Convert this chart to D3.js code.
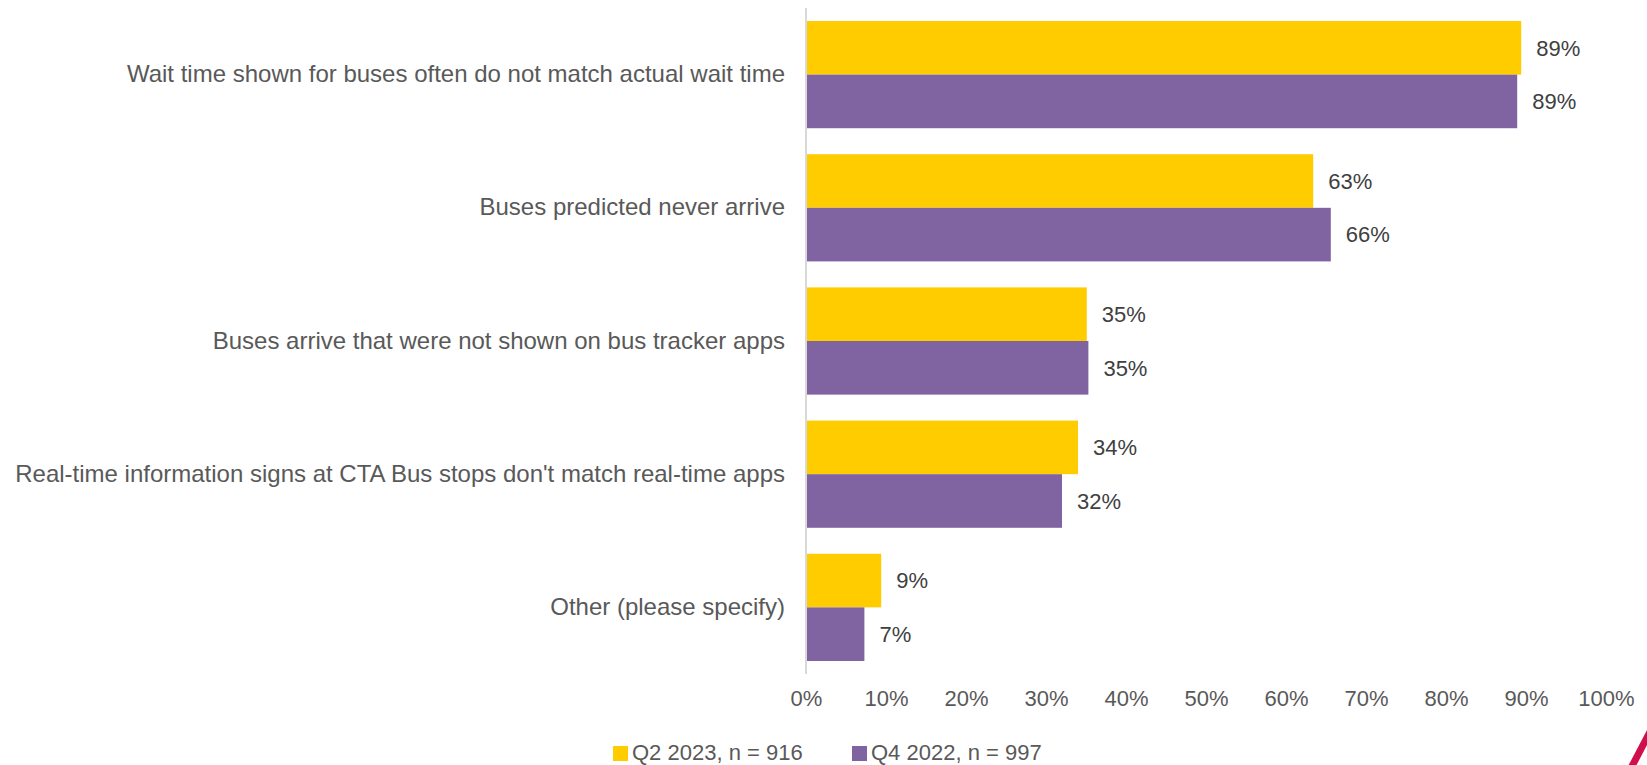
<!DOCTYPE html>
<html>
<head>
<meta charset="utf-8">
<script src="https://cdn.jsdelivr.net/npm/d3@7"></script>
<style>
  html, body { margin: 0; padding: 0; background: #ffffff; }
  svg { display: block; font-family: Arial, "Liberation Sans", sans-serif; }
</style>
</head>
<body>
<svg id="chart" width="1647" height="765"></svg>
<script>
// Survey: problems riders report with real-time bus information
const categories = [
  "Wait time shown for buses often do not match actual wait time",
  "Buses predicted never arrive",
  "Buses arrive that were not shown on bus tracker apps",
  "Real-time information signs at CTA Bus stops don't match real-time apps",
  "Other (please specify)"
];
const seriesNames = ["Q2 2023, n = 916", "Q4 2022, n = 997"];
const q2_2023 = [89.4, 63.4, 35.1, 34.0, 9.4];
const q4_2022 = [88.9, 65.6, 35.3, 32.0, 7.3];
const tickValues = [0, 10, 20, 30, 40, 50, 60, 70, 80, 90, 100];
const colors = ["#FFCC00", "#8064A2"];

const svg = d3.select("#chart");
const textColor = "#595959";
const fontSize = 22;
const catFontSize = 24;

const x = d3.scaleLinear().domain([0, 100]).range([806, 1606]);
const y = d3.scaleBand().domain(categories).range([8, 674])
  .paddingInner(0.195).paddingOuter(0.0977);
const sub = d3.scaleBand().domain(seriesNames).range([0, y.bandwidth()]);

const series = [q2_2023, q4_2022];

// bars
series.forEach((vals, si) => {
  svg.append("g").selectAll("rect")
    .data(vals)
    .join("rect")
    .attr("x", x(0))
    .attr("y", (d, i) => y(categories[i]) + sub(seriesNames[si]))
    .attr("width", d => x(d) - x(0))
    .attr("height", sub.bandwidth())
    .attr("fill", colors[si]);

  // value labels
  svg.append("g").selectAll("text")
    .data(vals)
    .join("text")
    .attr("x", d => x(d) + 15)
    .attr("y", (d, i) => y(categories[i]) + sub(seriesNames[si]) + sub.bandwidth() / 2)
    .attr("dy", "0.35em")
    .attr("font-size", fontSize)
    .attr("fill", "#404040")
    .text(d => Math.round(d) + "%");
});

// category axis
const yAxis = svg.append("g")
  .attr("transform", `translate(${x(0)},0)`)
  .call(d3.axisLeft(y).tickSize(0).tickPadding(21));
yAxis.select(".domain").attr("stroke", "#D9D9D9").attr("stroke-width", 2)
  .attr("d", `M0,8V674`);
yAxis.selectAll("text")
  .attr("font-size", catFontSize)
  .attr("font-family", "Arial, 'Liberation Sans', sans-serif")
  .attr("fill", textColor);

// value axis (labels only)
const xAxis = svg.append("g")
  .attr("transform", "translate(0,690)")
  .call(d3.axisBottom(x).tickValues(tickValues).tickSize(0).tickPadding(0)
    .tickFormat(d => d + "%"));
xAxis.select(".domain").remove();
xAxis.selectAll("text")
  .attr("font-size", fontSize)
  .attr("font-family", "Arial, 'Liberation Sans', sans-serif")
  .attr("fill", textColor);

// legend
const legendX = [613, 852];
const legend = svg.append("g");
seriesNames.forEach((name, i) => {
  legend.append("rect")
    .attr("x", legendX[i]).attr("y", 746)
    .attr("width", 15).attr("height", 15)
    .attr("fill", colors[i]);
  legend.append("text")
    .attr("x", legendX[i] + 19).attr("y", 760)
    .attr("font-size", fontSize)
    .attr("fill", textColor)
    .text(name);
});

// corner accent
svg.append("path")
  .attr("d", "M1630,770 L1652,728")
  .attr("stroke", "#D0104C")
  .attr("stroke-width", 7)
  .attr("fill", "none");
</script>
</body>
</html>
